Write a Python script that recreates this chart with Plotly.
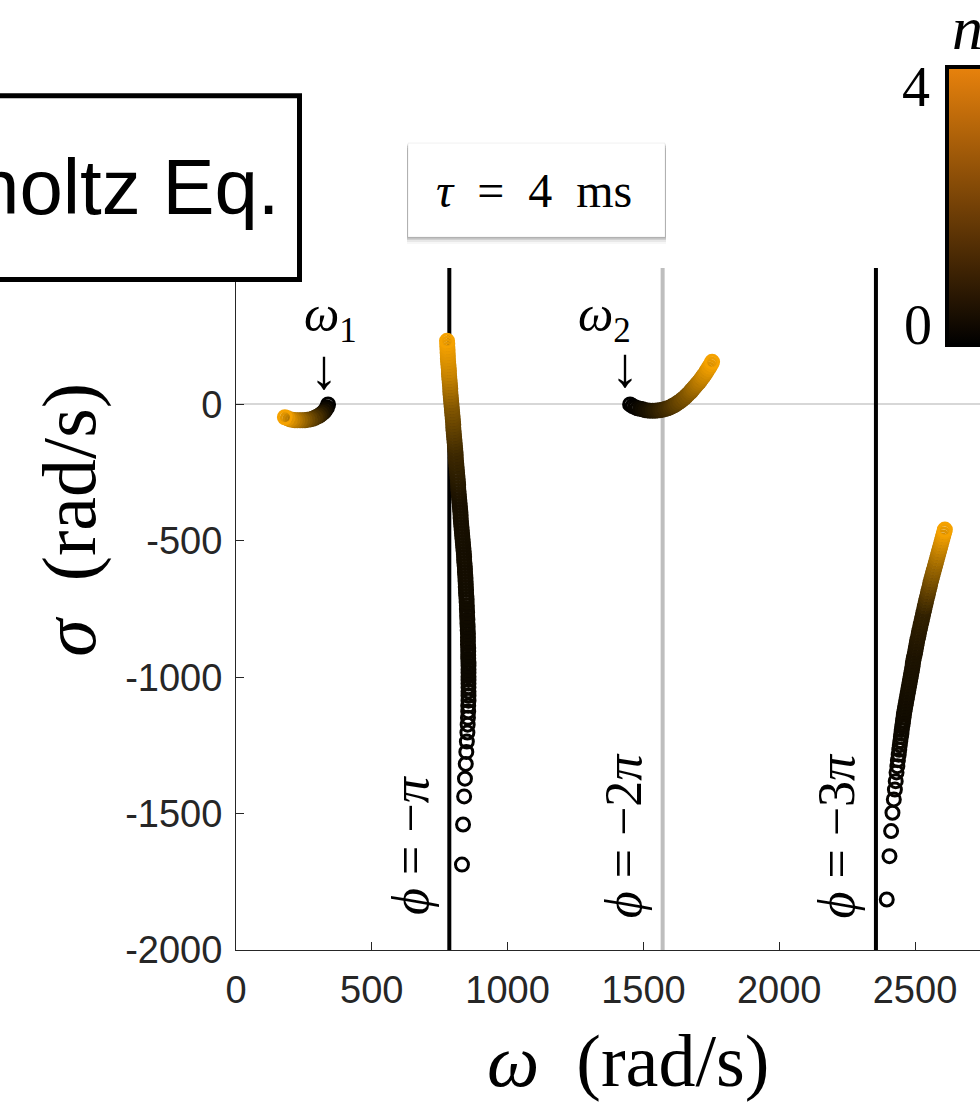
import plotly.graph_objects as go

# ---------------- data ----------------
# Branch starting at omega_1 (n from 0 to 4)
omega_A = [339, 335, 331, 326, 320, 313, 306, 298, 291, 282, 273, 263, 254, 245, 236, 226, 217, 208, 199, 190, 180]
sigma_A = [0, -11, -18, -25, -31, -36, -42, -45, -49, -53, -55, -56, -58, -58, -58, -58, -58, -56, -55, -51, -47]
n_A = [0, 0.08, 0.19, 0.33, 0.48, 0.64, 0.81, 0.99, 1.18, 1.37, 1.57, 1.78, 1.99, 2.21, 2.44, 2.66, 2.90, 3.14, 3.38, 3.68, 4.0]

# Branch starting at omega_2
omega_B = [1451, 1460, 1469, 1478, 1488, 1497, 1506, 1515, 1524, 1534, 1543, 1552, 1561, 1570, 1580,
           1589, 1598, 1605, 1613, 1620, 1627, 1635, 1642, 1650, 1657, 1664, 1672, 1677, 1683, 1688,
           1694, 1699, 1705, 1710, 1716, 1721, 1727, 1732, 1738, 1743, 1749, 1753]
sigma_B = [0, -6, -10, -14, -16, -18, -21, -22, -23, -23, -23, -22, -21, -20, -17,
           -14, -11, -7, -3, 1, 6, 11, 17, 23, 30, 37, 44, 51, 57, 63,
           70, 76, 82, 89, 97, 104, 112, 121, 129, 138, 147, 156]
n_B = [0, 0.03, 0.08, 0.13, 0.19, 0.26, 0.33, 0.40, 0.48, 0.56, 0.64, 0.72, 0.81, 0.90, 0.99,
       1.08, 1.18, 1.27, 1.37, 1.47, 1.57, 1.68, 1.78, 1.89, 1.99, 2.10, 2.21, 2.32, 2.44, 2.55,
       2.66, 2.78, 2.90, 3.02, 3.14, 3.26, 3.38, 3.50, 3.62, 3.75, 3.87, 4.0]

# Intrinsic branch near phi = -pi
sigma_C = [-1687, -1540, -1437, -1372, -1318, -1274, -1236, -1203, -1174, -1149, -1126, -1105, -1086, -1068,
           -1052, -1037, -1023,
           -1010, -997, -984, -971, -958, -945, -932, -919, -906, -893, -880, -867, -854, -841, -828, -815,
           -802, -789, -776, -763, -750, -737, -724,
           -713, -702, -691, -680, -669, -658, -647, -636, -625, -614, -603, -592, -581, -570, -559, -548,
           -537, -526, -515, -504, -493, -482, -471, -460, -449, -438, -427, -416, -405, -394, -383, -372,
           -361, -350, -339, -328, -317, -306, -295, -284, -273, -262, -251, -240, -229, -218, -207, -196,
           -185, -174, -163, -152, -141, -130, -119, -108, -97, -86, -75, -64, -53, -42, -31, -20, -9,
           2, 13, 24, 35, 46, 57, 68, 79, 90, 101, 112, 123, 134, 145, 156, 167, 178, 189, 200, 211, 222, 233]
omega_C = [832, 836, 840, 843, 846, 848, 850, 852, 853, 854, 855, 855, 856, 856,
           856, 856, 856,
           856, 856, 856, 856, 856, 856, 855, 855, 855, 855, 854, 854, 854, 854, 853, 853,
           852, 852, 851, 851, 850, 850, 849,
           849, 848, 847, 847, 846, 846, 845, 845, 844, 843, 843, 842, 841, 840, 840, 839,
           838, 837, 836, 835, 834, 833, 832, 831, 830, 829, 828, 827, 827, 826, 825, 824,
           823, 822, 821, 820, 819, 818, 818, 817, 816, 815, 814, 813, 812, 811, 810, 809,
           809, 808, 807, 806, 805, 804, 803, 802, 801, 800, 800, 799, 798, 797, 796, 795, 794,
           793, 792, 791, 790, 789, 789, 788, 787, 786, 785, 784, 784, 783, 782, 781, 780, 780, 779, 779, 778, 778, 777]
n_C = [0.01, 0.02, 0.03, 0.04, 0.05, 0.06, 0.07, 0.08, 0.09, 0.10, 0.11, 0.12, 0.13, 0.14,
       0.15, 0.16, 0.17,
       0.18, 0.18, 0.19, 0.19, 0.20, 0.20, 0.21, 0.21, 0.22, 0.22, 0.23, 0.23, 0.24, 0.24, 0.25, 0.25,
       0.26, 0.26, 0.27, 0.27, 0.28, 0.28, 0.29,
       0.29, 0.29, 0.30, 0.30, 0.30, 0.31, 0.31, 0.31, 0.32, 0.32, 0.32, 0.33, 0.33, 0.33, 0.34, 0.34,
       0.34, 0.35, 0.35, 0.35, 0.36, 0.36, 0.36, 0.37, 0.37, 0.37, 0.38, 0.38, 0.38, 0.39, 0.39, 0.39,
       0.40, 0.40, 0.42, 0.46, 0.50, 0.53, 0.57, 0.61, 0.64, 0.68, 0.72, 0.75, 0.79, 0.83, 0.86, 0.90,
       0.94, 0.97, 1.01, 1.08, 1.16, 1.23, 1.30, 1.38, 1.45, 1.52, 1.60, 1.67, 1.74, 1.82, 1.89, 1.96, 2.04,
       2.11, 2.22, 2.32, 2.43, 2.53, 2.64, 2.74, 2.85, 2.95, 3.06, 3.16, 3.27, 3.34, 3.41, 3.48, 3.55,
       3.62, 3.69, 3.76, 3.83, 3.90, 4.00]

# Intrinsic branch near phi = -3pi
sigma_D = [-1815, -1656, -1564, -1497, -1448, -1412, -1381, -1349, -1326, -1304, -1284, -1266, -1249, -1234,
           -1219, -1207, -1194, -1181, -1170, -1159, -1148, -1137, -1126, -1115, -1104, -1093, -1082,
           -1071, -1060, -1049, -1038, -1027, -1016, -1005, -994, -983, -972, -961, -950,
           -939, -928, -917, -906, -895, -884, -873, -862, -851,
           -840, -829, -818, -807, -796, -785, -774, -763, -752,
           -741, -730, -719, -708, -697, -686, -675, -664, -653,
           -642, -631, -620, -609, -598, -587, -576, -565, -554,
           -543, -532, -521, -510, -499, -488, -477, -466, -459]
omega_D = [2396, 2406, 2412, 2417, 2422, 2426, 2429, 2432, 2435, 2437, 2440, 2442, 2444, 2446,
           2448, 2450, 2451, 2453, 2455, 2456, 2458, 2459, 2461, 2463, 2465, 2467, 2469,
           2471, 2473, 2475, 2477, 2479, 2481, 2483, 2485, 2487, 2489, 2491, 2492,
           2494, 2496, 2499, 2501, 2503, 2505, 2507, 2509, 2512,
           2514, 2516, 2519, 2521, 2524, 2526, 2529, 2531, 2534,
           2536, 2539, 2541, 2544, 2547, 2549, 2552, 2555, 2557,
           2560, 2563, 2566, 2569, 2572, 2575, 2578, 2581, 2584,
           2587, 2590, 2593, 2596, 2599, 2602, 2605, 2608, 2610]
n_D = [0.02, 0.04, 0.06, 0.08, 0.10, 0.11, 0.12, 0.13, 0.14, 0.15, 0.16, 0.17, 0.18, 0.19,
       0.20, 0.21, 0.22, 0.23, 0.24, 0.25, 0.26, 0.27, 0.28, 0.29, 0.30, 0.31, 0.32,
       0.33, 0.34, 0.35, 0.36, 0.37, 0.38, 0.39, 0.40, 0.41, 0.42, 0.43, 0.44,
       0.45, 0.46, 0.47, 0.48, 0.50, 0.52, 0.55, 0.57, 0.60,
       0.62, 0.65, 0.67, 0.70, 0.72, 0.75, 0.77, 0.79, 0.82,
       0.93, 1.04, 1.15, 1.26, 1.37, 1.48, 1.59, 1.70, 1.81,
       1.92, 2.03, 2.14, 2.25, 2.36, 2.47, 2.60, 2.73, 2.86,
       2.99, 3.12, 3.25, 3.38, 3.51, 3.64, 3.77, 3.90, 4.00]

# phase lines phi = -pi, -2pi, -3pi  (omega = k*pi/tau, tau = 4 ms)
phase_omega = [785.4, 1570.8, 2356.2]
phase_color = ["black", "rgb(190,190,190)", "black"]
phase_label = ["<i>ϕ</i> = −<i>π</i>", "<i>ϕ</i> = −2<i>π</i>", "<i>ϕ</i> = −3<i>π</i>"]

x_ticks = [0, 500, 1000, 1500, 2000, 2500, 3000]
x_ticktext = ["0", "500", "1000", "1500", "2000", "2500", "3000"]
y_ticks = [-2000, -1500, -1000, -500, 0]
y_ticktext = ["-2000", "-1500", "-1000", "-500", "0"]

# ---------------- geometry ----------------
W, H = 980, 1110
ML, MR, MT, MB = 236, 0, 268, 159.5
PW = W - ML - MR
PH = H - MT - MB
X_MAX = PW / 0.2716
Y_MIN, Y_MAX = -2000, 500


def px(x):
    return (x - ML) / PW


def py(y):
    return (H - MB - y) / PH


SERIF = "Liberation Serif, Times New Roman, serif"
SANS = "Liberation Sans, Arial, Helvetica, sans-serif"

fig = go.Figure()

for w, c in zip(phase_omega, phase_color):
    fig.add_trace(go.Scatter(x=[w, w], y=[Y_MIN, Y_MAX], mode="lines",
                             line=dict(color=c, width=4), hoverinfo="skip", showlegend=False))

for om, sg, nn in [(omega_A, sigma_A, n_A), (omega_B, sigma_B, n_B),
                   (omega_C, sigma_C, n_C), (omega_D, sigma_D, n_D)]:
    fig.add_trace(go.Scatter(x=om, y=sg, mode="markers",
                             marker=dict(symbol="circle-open", size=13, color=nn,
                                         coloraxis="coloraxis", line=dict(width=3)),
                             showlegend=False))

# dummy trace carrying the colour bar
fig.add_trace(go.Scatter(x=[-5000], y=[-9000], mode="markers",
                         marker=dict(color=[0], coloraxis="coloraxis2", size=1),
                         showlegend=False, hoverinfo="skip"))

shapes = []
# tau box shadow + box
for dy, op in [(7, 0.03), (5, 0.06), (3, 0.10), (1.5, 0.12)]:
    shapes.append(dict(type="rect", xref="paper", yref="paper", layer="above",
                       x0=px(407), x1=px(666), y0=py(143 + dy), y1=py(237 + dy),
                       fillcolor=f"rgba(0,0,0,{op})", line=dict(width=0)))
shapes.append(dict(type="rect", xref="paper", yref="paper", layer="above",
                   x0=px(408), x1=px(665), y0=py(143), y1=py(237),
                   fillcolor="white", line=dict(color="rgba(0,0,0,0.06)", width=1)))
# Helmholtz box
shapes.append(dict(type="rect", xref="paper", yref="paper", layer="above",
                   x0=px(-20), x1=px(299.5), y0=py(95.5), y1=py(279.5),
                   fillcolor="white", line=dict(color="black", width=5)))

ann = []


def add_text(text, x, y, size, family=SERIF, angle=0, xanchor="center", color="black"):
    ann.append(dict(text=text, x=px(x), y=py(y), xref="paper", yref="paper",
                    xanchor=xanchor, yanchor="middle", showarrow=False, textangle=angle,
                    font=dict(family=family, size=size, color=color)))


add_text("Helmholtz Eq.", 282, 187, 78, family=SANS, xanchor="right")
add_text("<i>τ</i>\u2002=\u20024\u2002ms", 534, 190, 48)
add_text("<i>ω</i><sub>1</sub>", 330, 318, 50)
add_text("↓", 324, 369, 56)
add_text("<i>ω</i><sub>2</sub>", 604, 318, 50)
add_text("↓", 625, 367, 56)
for w, lab, yc in zip(phase_omega, phase_label, [845, 836, 836]):
    xc = ML + w * 0.2716 - 39
    add_text(lab, xc, yc, 52, angle=-90)
add_text("<i>ω</i>\u2002(rad/s)", 628, 1062, 74)
add_text("<i>σ</i>\u2002(rad/s)", 70, 520, 76, angle=-90)
add_text("4", 916, 87, 56)
add_text("0", 918, 325, 56)
add_text("<i>n</i>", 967, 28, 62)

fig.update_layout(
    width=W, height=H, autosize=False,
    margin=dict(l=ML, r=MR, t=MT, b=MB, autoexpand=False),
    paper_bgcolor="white", plot_bgcolor="white",
    showlegend=False,
    shapes=shapes, annotations=ann,
    coloraxis=dict(cmin=0, cmax=4, showscale=False,
                   colorscale=[[0, "rgb(0,0,0)"], [1, "rgb(245,162,0)"]]),
    coloraxis2=dict(cmin=0, cmax=4, showscale=True,
                    colorscale=[[0, "rgb(0,0,0)"], [1, "rgb(232,130,12)"]],
                    colorbar=dict(x=px(947), xanchor="left", y=py(67), yanchor="top",
                                  len=(345 - 67) / PH, lenmode="fraction",
                                  thickness=40, thicknessmode="pixels",
                                  outlinewidth=4, outlinecolor="black",
                                  showticklabels=False, ticks="", xpad=0, ypad=0)),
    xaxis=dict(range=[0, X_MAX], showgrid=False, zeroline=False,
               showline=True, linecolor="#262626", linewidth=1,
               ticks="inside", ticklen=8, tickcolor="#262626", tickwidth=1,
               tickvals=x_ticks, ticktext=x_ticktext,
               tickfont=dict(family=SANS, size=38, color="#262626"),
               ticklabelstandoff=6),
    yaxis=dict(range=[Y_MIN, Y_MAX], showgrid=False,
               zeroline=True, zerolinecolor="rgb(215,215,215)", zerolinewidth=2,
               showline=True, linecolor="#262626", linewidth=1,
               ticks="inside", ticklen=8, tickcolor="#262626", tickwidth=1,
               tickvals=y_ticks, ticktext=y_ticktext,
               tickfont=dict(family=SANS, size=38, color="#262626"),
               ticklabelstandoff=5),
)

fig.write_html("out.html")
